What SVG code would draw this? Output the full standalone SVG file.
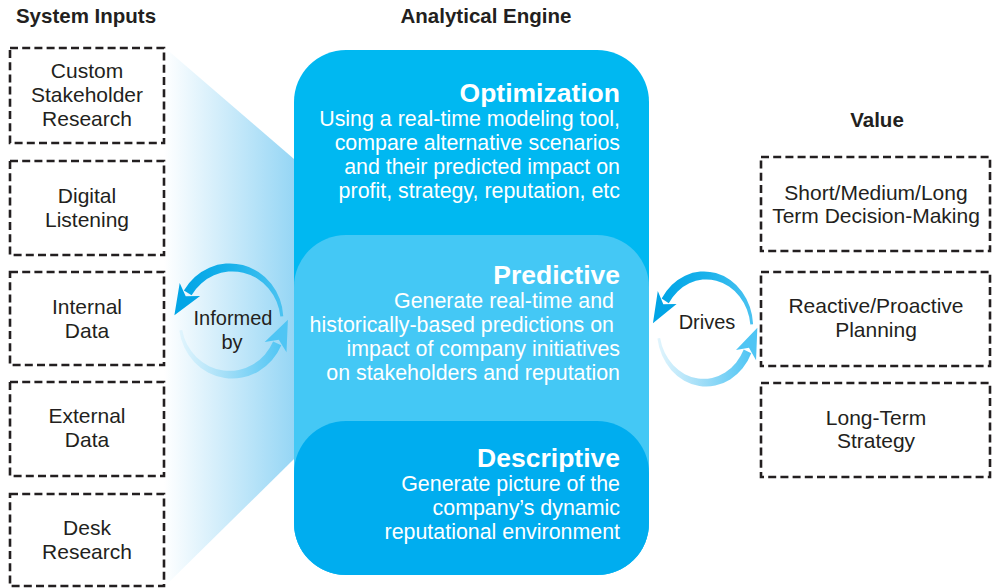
<svg xmlns="http://www.w3.org/2000/svg" xmlns:xlink="http://www.w3.org/1999/xlink" width="992" height="588" viewBox="0 0 992 588">
<style>
text{font-family:"Liberation Sans",Arial,Helvetica,sans-serif;}
.h{font-size:20.5px;font-weight:bold;fill:#231f20;text-anchor:middle;}
.bx{fill:#ffffff;stroke:#231f20;stroke-width:2.6;stroke-dasharray:8 4.2;}
.bt{font-size:21px;fill:#231f20;text-anchor:middle;}
.et{font-size:26.5px;font-weight:bold;fill:#ffffff;text-anchor:end;}
.ed{font-size:21.4px;fill:#ffffff;text-anchor:end;}
.ct{font-size:20px;fill:#231f20;text-anchor:middle;}
</style>
<defs>
<linearGradient id="funnel" gradientUnits="userSpaceOnUse" x1="164" y1="0" x2="294" y2="0">
<stop offset="0" stop-color="#ffffff"/>
<stop offset="1" stop-color="#96d6f5"/>
</linearGradient>
<linearGradient id="gTop" x1="1" y1="0" x2="0" y2="0">
<stop offset="0" stop-color="#4cc3f1"/>
<stop offset="0.5" stop-color="#1ab2eb"/>
<stop offset="1" stop-color="#02a5e6"/>
</linearGradient>
<linearGradient id="gBot" x1="0" y1="0" x2="1" y2="0">
<stop offset="0" stop-color="#e2f5fd"/>
<stop offset="0.5" stop-color="#9cdcf7"/>
<stop offset="1" stop-color="#4fc5f4"/>
</linearGradient>
<g id="cycle">
<path d="M52.3 -4.7 A53.5 55.5 0 0 0 -47.1 -30.5 L-39.4 -25.7 A48 50 0 0 1 49.3 -4.5 Z" fill="url(#gTop)"/>
<polygon points="-56.6,-5.8 -51.3,-37.9 -45.3,-24.7 -30.9,-25.1" fill="#02a5e6"/>
<path d="M-51.7 9.5 A53.5 55.5 0 0 0 50.3 24.3 L42.1 20.5 A48 50 0 0 1 -48.8 9 Z" fill="url(#gBot)"/>
<polygon points="56.9,-1.3 55.5,31.2 47.8,18.7 33.7,21" fill="#4fc5f4"/>
</g>
</defs>
<rect width="992" height="588" fill="#ffffff"/>

<polygon id="funnel-shape" points="164,47 294,159 294,459 164,587" fill="url(#funnel)"/>

<text class="h" x="86" y="23">System Inputs</text>
<text class="h" x="486" y="23">Analytical Engine</text>
<text class="h" x="877" y="127">Value</text>

<g id="input-custom">
<rect class="bx" x="10" y="48" width="154" height="95"/>
<text class="bt" x="87" y="78">Custom</text>
<text class="bt" x="87" y="102">Stakeholder</text>
<text class="bt" x="87" y="126">Research</text>
</g>
<g id="input-digital">
<rect class="bx" x="10" y="161" width="154" height="94"/>
<text class="bt" x="87" y="203">Digital</text>
<text class="bt" x="87" y="227">Listening</text>
</g>
<g id="input-internal">
<rect class="bx" x="10" y="272" width="154" height="93"/>
<text class="bt" x="87" y="314">Internal</text>
<text class="bt" x="87" y="338">Data</text>
</g>
<g id="input-external">
<rect class="bx" x="10" y="382" width="154" height="94"/>
<text class="bt" x="87" y="423">External</text>
<text class="bt" x="87" y="447">Data</text>
</g>
<g id="input-desk">
<rect class="bx" x="10" y="494" width="154" height="92"/>
<text class="bt" x="87" y="535">Desk</text>
<text class="bt" x="87" y="559">Research</text>
</g>

<g id="engine">
<g id="optimization">
<rect x="294" y="50" width="355" height="525" rx="52" fill="#00b8f1"/>
<text class="et" x="620" y="102">Optimization</text>
<text class="ed" x="620" y="126">Using a real-time modeling tool,</text>
<text class="ed" x="620" y="150">compare alternative scenarios</text>
<text class="ed" x="620" y="174">and their predicted impact on</text>
<text class="ed" x="620" y="198">profit, strategy, reputation, etc</text>
</g>
<g id="predictive">
<rect x="294" y="235" width="355" height="340" rx="52" fill="#44c8f5"/>
<text class="et" x="620" y="284">Predictive</text>
<text class="ed" x="614" y="308">Generate real-time and</text>
<text class="ed" x="614" y="332">historically-based predictions on</text>
<text class="ed" x="620" y="356">impact of company initiatives</text>
<text class="ed" x="620" y="380">on stakeholders and reputation</text>
</g>
<g id="descriptive">
<rect x="294" y="421" width="355" height="154" rx="52" fill="#00adef"/>
<text class="et" x="620" y="467">Descriptive</text>
<text class="ed" x="620" y="491">Generate picture of the</text>
<text class="ed" x="620" y="515">company’s dynamic</text>
<text class="ed" x="620" y="539">reputational environment</text>
</g>
</g>

<g id="value-decision">
<rect class="bx" x="761" y="157" width="229" height="94"/>
<text class="bt" x="876" y="200">Short/Medium/Long</text>
<text class="bt" x="876" y="223">Term Decision-Making</text>
</g>
<g id="value-planning">
<rect class="bx" x="761" y="272" width="229" height="94"/>
<text class="bt" x="876" y="313">Reactive/Proactive</text>
<text class="bt" x="876" y="337">Planning</text>
</g>
<g id="value-strategy">
<rect class="bx" x="761" y="383" width="229" height="94"/>
<text class="bt" x="876" y="425">Long-Term</text>
<text class="bt" x="876" y="448">Strategy</text>
</g>

<g id="connectors">
<g id="informed-by">
<use xlink:href="#cycle" transform="translate(231,321)"/>
<text class="ct" x="233" y="325">Informed</text>
<text class="ct" x="232" y="349">by</text>
</g>
<g id="drives">
<use xlink:href="#cycle" transform="translate(705,329) scale(0.92,1)"/>
<text class="ct" x="707" y="329">Drives</text>
</g>
</g>
</svg>
